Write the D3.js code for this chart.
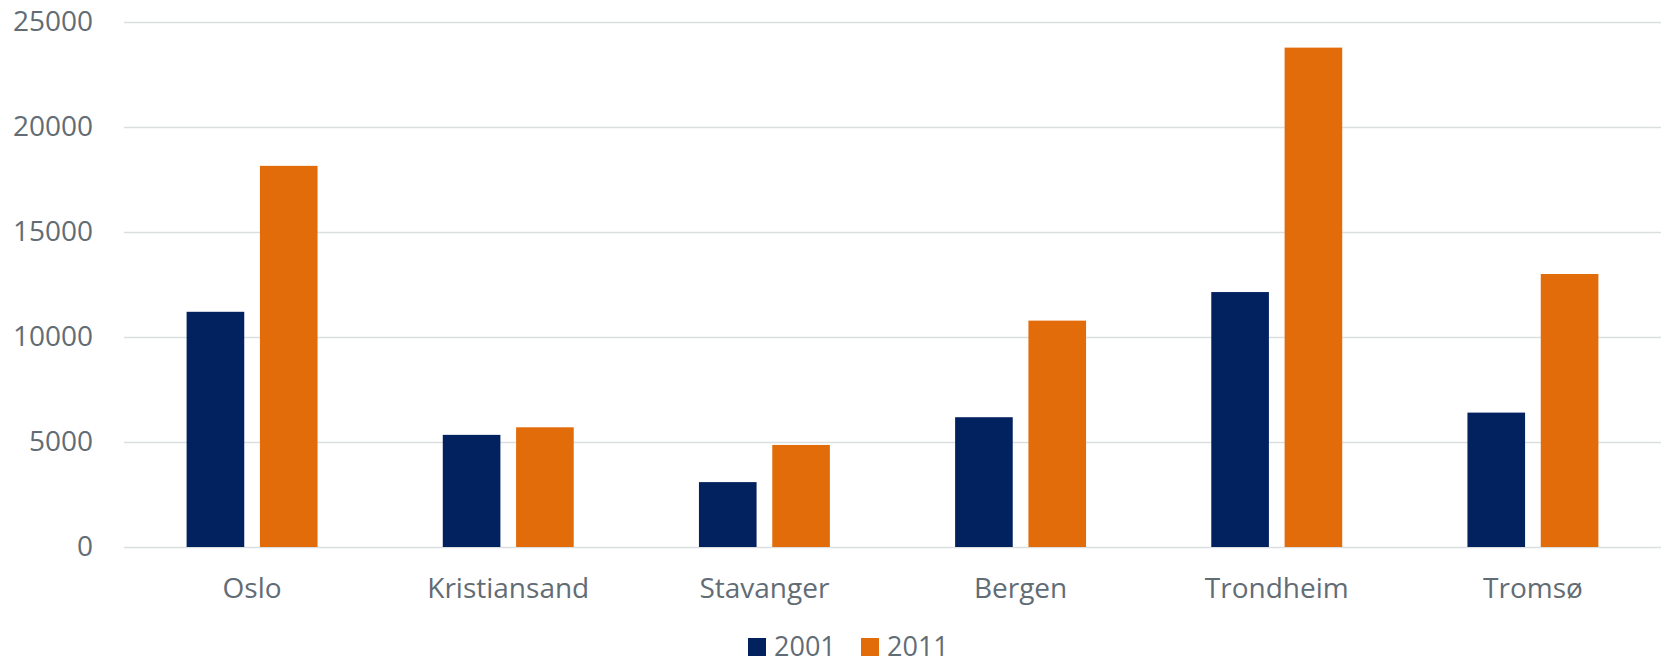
<!DOCTYPE html>
<html>
<head>
<meta charset="utf-8">
<script src="https://cdn.jsdelivr.net/npm/d3@7"></script>
<style>
  body { margin: 0; background: #fff; }
  text { font-family: "Open Sans", sans-serif; fill: #626c75; }
</style>
</head>
<body>
<svg width="1667" height="664"></svg>
<script>
// data
let cities = ['Oslo', 'Kristiansand', 'Stavanger', 'Bergen', 'Trondheim', 'Tromsø']
let years = ['2001', '2011']
let v2001 = [11200, 5340, 3090, 6180, 12140, 6400]
let v2011 = [18150, 5700, 4860, 10780, 23780, 13000]
let yTicks = [0, 5000, 10000, 15000, 20000, 25000]

let colors = {'2001': '#02215f', '2011': '#e36c0a'}

let svg = d3.select('svg')

let pLeft = 124, pRight = 1661, pTop = 22, pBottom = 547

let x0 = d3.scaleBand().domain(cities).range([pLeft, pRight]).padding(0)
let x1 = d3.scaleBand().domain(years).range([0, x0.bandwidth()])
	.paddingInner(0.214).paddingOuter(0.854)
let y = d3.scaleLinear().domain([0, 25000]).range([pBottom, pTop])

// gridlines + tick labels
let yAxis = d3.axisLeft(y).tickValues(yTicks).tickFormat(d3.format('d'))
	.tickSize(-(pRight - pLeft)).tickPadding(31)
let gy = svg.append('g').attr('transform', `translate(${pLeft},0)`).call(yAxis)
gy.select('.domain').remove()
gy.selectAll('line').attr('stroke', '#dcdfe0').attr('stroke-width', 1.5)
gy.selectAll('text').style('font-size', '28px').style('font-family', '"Open Sans", sans-serif').attr('fill', '#626c75')

// bars
let rows = cities.map((c, i) => ({city: c, vals: [{k: '2001', v: v2001[i]}, {k: '2011', v: v2011[i]}]}))

let groups = svg.append('g').selectAll('g')
	.data(rows).join('g')
	.attr('transform', d => `translate(${x0(d.city)},0)`)

groups.selectAll('rect')
	.data(d => d.vals).join('rect')
	.attr('x', d => x1(d.k))
	.attr('width', x1.bandwidth())
	.attr('y', d => y(d.v))
	.attr('height', d => y(0) - y(d.v))
	.attr('fill', d => colors[d.k])

// category labels
let xAxis = d3.axisBottom(x0).tickSize(0).tickPadding(31)
let gx = svg.append('g').attr('transform', `translate(0,${pBottom})`).call(xAxis)
gx.select('.domain').remove()
gx.selectAll('text').style('font-size', '28px').style('font-family', '"Open Sans", sans-serif').attr('fill', '#626c75')

// legend
let legend = svg.append('g')
let lx = [748, 861]
years.forEach((yr, i) => {
	legend.append('rect')
		.attr('x', lx[i]).attr('y', 638)
		.attr('width', 18).attr('height', 18)
		.attr('fill', colors[yr])
	legend.append('text')
		.attr('x', lx[i] + 26).attr('y', 656)
		.style('font-size', '27px')
		.text(yr)
})
</script>
</body>
</html>
